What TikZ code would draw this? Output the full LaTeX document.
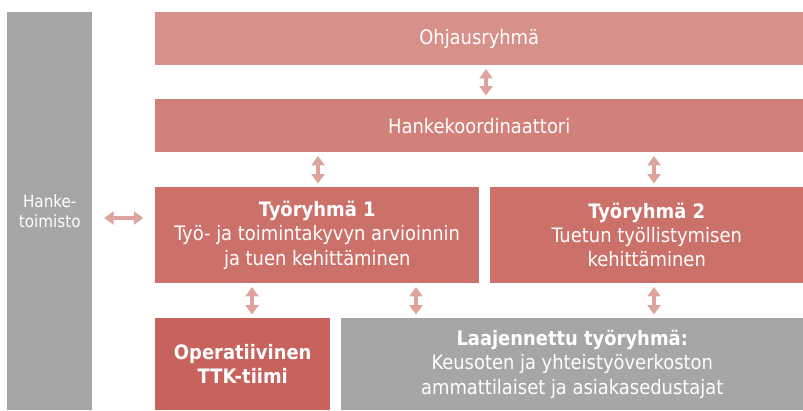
\documentclass[tikz,border=0pt]{standalone}
\usepackage{fontspec}
\setmainfont{DejaVu Sans Condensed}
\usepackage{xcolor}
\usepackage{tikz}
\usetikzlibrary{arrows.meta}
\definecolor{orgpale}{RGB}{216, 145, 138}
\definecolor{orgsoft}{RGB}{210, 128, 122}
\definecolor{orgmid}{RGB}{204, 113, 106}
\definecolor{orgdeep}{RGB}{200, 98, 92}
\definecolor{orggray}{RGB}{166, 166, 166}
\definecolor{orgarrow}{RGB}{223, 163, 157}

\begin{document}
\begin{tikzpicture}[x=0.03cm, y=-0.03cm,
    box/.style={anchor=north west, inner sep=0pt, text=white, align=center,
        font=\fontsize{17}{20.6}\selectfont},
    link/.style={orgarrow, line width=4pt,
        {Triangle[width=11pt,length=8pt]}-{Triangle[width=11pt,length=8pt]},
        shorten <=3pt, shorten >=3pt}]
\useasboundingbox (0,0) rectangle (803,410);

% Side column
\node[box, fill=orggray, minimum width=85*0.03cm, minimum height=398*0.03cm,
    font=\fontsize{14.4}{17}\selectfont] (hanke) at (7,12) {Hanke-\\toimisto};

% Top rows
\node[box, fill=orgpale, minimum width=648*0.03cm, minimum height=53*0.03cm] (ohjaus) at (155,12) {Ohjausryhmä};
\node[box, fill=orgsoft, minimum width=648*0.03cm, minimum height=53*0.03cm] (koord) at (155,99) {Hankekoordinaattori};

% Work groups
\node[box, fill=orgmid, minimum width=324*0.03cm, minimum height=96*0.03cm] (tyo1) at (155,187)
    {\textbf{Työryhmä 1}\\Työ- ja toimintakyvyn arvioinnin\\ja tuen kehittäminen};
\node[box, fill=orgmid, minimum width=313*0.03cm, minimum height=96*0.03cm] (tyo2) at (490,187)
    {\textbf{Työryhmä 2}\\Tuetun työllistymisen\\kehittäminen};

% Bottom row
\node[box, fill=orgdeep, minimum width=175*0.03cm, minimum height=92*0.03cm] (ttk) at (155,318)
    {\textbf{Operatiivinen}\\\textbf{TTK-tiimi}};
\node[box, fill=orggray, minimum width=462*0.03cm, minimum height=92*0.03cm] (laaj) at (341,318)
    {\textbf{Laajennettu työryhmä:}\\Keusoten ja yhteistyöverkoston\\ammattilaiset ja asiakasedustajat};

% Connections
\draw[link] (ohjaus.south -| 486,0) -- (koord.north -| 486,0);
\draw[link] (koord.south -| 318,0) -- (tyo1.north -| 318,0);
\draw[link] (koord.south -| 654,0) -- (tyo2.north -| 654,0);
\draw[link] (tyo1.south -| 252,0) -- (ttk.north -| 252,0);
\draw[link] (tyo1.south -| 416,0) -- (laaj.north -| 416,0);
\draw[link] (tyo2.south -| 654,0) -- (laaj.north -| 654,0);
\draw[link, shorten <=10pt, shorten >=10pt] (hanke.east |- 0,218) -- (tyo1.west |- 0,218);
\end{tikzpicture}
\end{document}
